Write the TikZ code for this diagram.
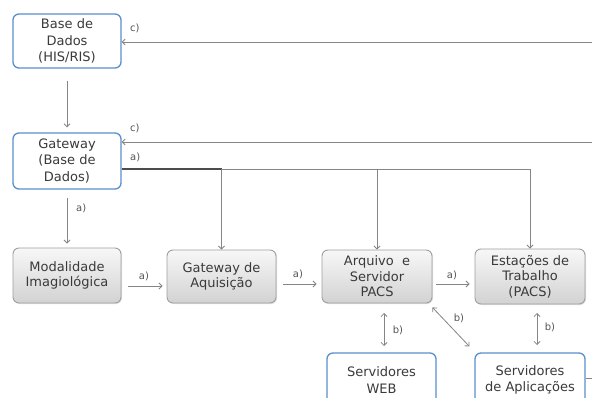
\documentclass[tikz,border=0pt]{standalone}
\usepackage{fontspec}
\setmainfont{DejaVu Sans}
\usetikzlibrary{arrows.meta,calc,shadows}
\definecolor{boxblue}{HTML}{5A8FCF}
\definecolor{linegray}{HTML}{858585}
\definecolor{txtgray}{HTML}{3A3A3A}
\definecolor{lblgray}{HTML}{555555}
\tikzset{
  bluebox/.style={draw=boxblue, line width=1.3pt, fill=white, rounded corners=6pt,
    align=center, text=txtgray, inner sep=0pt,
    font=\fontsize{13}{16.5}\selectfont},
  graybox/.style={draw=gray!75, line width=0.9pt, rounded corners=6pt,
    top color=gray!6, bottom color=gray!35,
    drop shadow={opacity=0.25, shadow xshift=1pt, shadow yshift=-1pt},
    align=center, text=txtgray, inner sep=0pt,
    font=\fontsize{13}{15.5}\selectfont},
  conn/.style={draw=linegray, line width=0.8pt},
  arr/.style={conn, -{Straight Barb[length=3pt,width=6pt]}},
  dblarr/.style={conn, {Straight Barb[length=3pt,width=6pt]}-{Straight Barb[length=3pt,width=6pt]}},
  lbl/.style={text=lblgray, font=\fontsize{10}{11}\selectfont, inner sep=0pt}
}
\begin{document}
\begin{tikzpicture}[x=1pt,y=-1pt]
  \useasboundingbox (0,0) rectangle (592,398);
  \clip (0,0) rectangle (592,398);
  \fill[white] (0,0) rectangle (592,398);

  % systems of information
  \node[bluebox, minimum width=108pt, minimum height=54pt] (base) at (67,41)
    {Base de\\Dados\\(HIS/RIS)};
  \node[bluebox, minimum width=108pt, minimum height=56pt] (gw) at (67,161)
    {Gateway\\(Base de\\Dados)};

  % acquisition chain
  \node[graybox, minimum width=108pt, minimum height=55pt] (mod) at (67,275.5)
    {Modalidade\\Imagiológica};
  \node[graybox, minimum width=109pt, minimum height=53pt] (gwaq) at (221.5,276.5)
    {Gateway de\\Aquisição};
  \node[graybox, minimum width=110pt, minimum height=53pt] (arq) at (377,276.5)
    {Arquivo\ \ e\\Servidor\\PACS};
  \node[graybox, minimum width=110pt, minimum height=55pt] (est) at (530,276.5)
    {Estações de\\Trabalho\\(PACS)};

  % servers
  \node[bluebox, minimum width=109pt, minimum height=54pt] (web) at (381.5,380)
    {Servidores\\WEB};
  \node[bluebox, minimum width=110pt, minimum height=54pt] (apl) at (530,380)
    {Servidores\\de Aplicações};

  % return paths c)
  \coordinate (c1) at (600,42);
  \coordinate (c2) at (600,142);
  \draw[arr] (c1) -- (base.east |- c1);
  \draw[arr] (c2) -- (gw.east |- c2);
  \node[lbl, anchor=west] (lc1) at (130,28) {c)};
  \node[lbl, anchor=west] (lc2) at (130,128) {c)};

  % base -> gateway
  \draw[arr] ($(base.south)+(0,12)$) -- ($(gw.north)+(0,-5)$);

  % gateway distribution bus a)
  \coordinate (b0) at (gw.east |- 0,169);
  \coordinate (b1) at (gwaq.north |- 0,169);
  \coordinate (b2) at (arq.north |- 0,169);
  \coordinate (b3) at (est.north |- 0,169);
  \draw[draw=gray!60!black, line width=1.2pt] (b0) -- (b1);
  \draw[conn] (b1) -- (b3);
  \draw[arr] (b1) -- (gwaq.north);
  \draw[arr] (b2) -- (arq.north);
  \draw[arr] (b3) -- (est.north);
  \node[lbl, anchor=west] (la0) at (130,157) {a)};

  % gateway -> modality
  \draw[arr] ($(gw.south)+(0,8)$) -- ($(mod.north)+(0,-4)$);
  \node[lbl, anchor=west] (la1) at (76,208) {a)};

  % horizontal chain a)
  \draw[arr] ($(mod.east |- 0,286)+(7,0)$) -- ($(gwaq.west |- 0,286)+(-4,0)$);
  \draw[arr] ($(gwaq.east |- 0,284)+(7,0)$) -- ($(arq.west |- 0,284)+(-5,0)$);
  \draw[arr] ($(arq.east |- 0,284)+(4,0)$) -- ($(est.west |- 0,284)+(-5,0)$);
  \node[lbl] (la2) at (144,276) {a)};
  \node[lbl] (la3) at (298,274) {a)};
  \node[lbl] (la4) at (452,275) {a)};

  % server links b)
  \draw[dblarr] (384,313) -- (384,346);
  \draw[dblarr] (537,313) -- (537,345);
  \draw[dblarr] ($(arq.south east)+(0,4)$) -- ($(apl.north west)+(-5,-6)$);
  \node[lbl] (lb1) at (398,330) {b)};
  \node[lbl] (lb2) at (550,327) {b)};
  \node[lbl] (lb3) at (459,318) {b)};

  % applications server outgoing link
  \draw[conn] ($(apl.east)+(0,-2)$) -- ++(12,0);
\end{tikzpicture}
\end{document}
